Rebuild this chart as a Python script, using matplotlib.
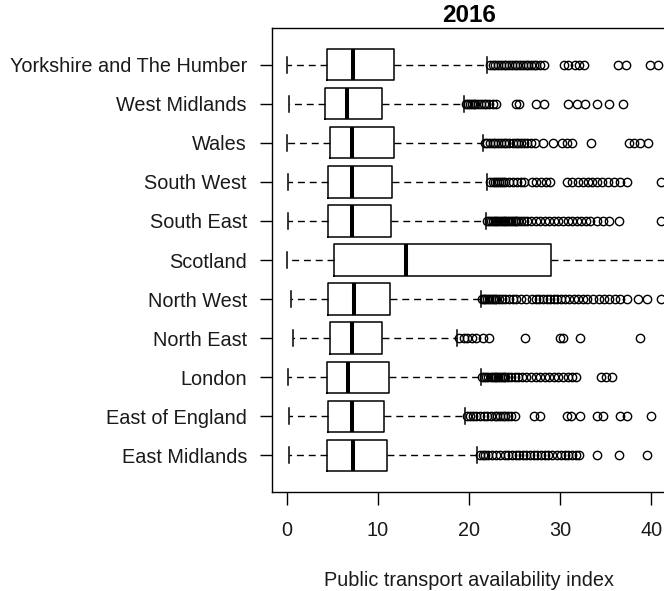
import matplotlib
matplotlib.use('Agg')
import matplotlib.pyplot as plt

plt.rcParams['font.family'] = ['Liberation Sans', 'DejaVu Sans']

# regions, bottom to top (same order as R's boxplot)
regions = ["East Midlands", "East of England", "London", "North East",
           "North West", "Scotland", "South East", "South West",
           "Wales", "West Midlands", "Yorkshire and The Humber"]

whisker_lo = [0.25, 0.25, 0.15, 0.69, 0.44, 0.0, 0.18, 0.18, 0.07, 0.25, 0.07]
q1 = [4.38, 4.52, 4.38, 4.74, 4.52, 5.18, 4.52, 4.52, 4.74, 4.16, 4.38]
median = [7.26, 7.19, 6.75, 7.19, 7.44, 13.1, 7.19, 7.19, 7.19, 6.64, 7.26]
q3 = [11.0, 10.65, 11.2, 10.47, 11.3, 29.0, 11.45, 11.6, 11.74, 10.47, 11.74]
whisker_hi = [20.9, 19.6, 21.3, 18.7, 21.3, 55.0, 21.9, 21.96, 21.5, 19.47, 21.96]

# outliers
out_east_midlands = [21.2, 21.5, 21.8, 22.1, 22.5, 23.0, 23.4, 23.9, 24.3, 24.7,
                     25.1, 25.5, 25.9, 26.3, 26.7, 27.1, 27.5, 27.9, 28.3, 28.7,
                     29.1, 29.7, 30.1, 30.5, 30.9, 31.3, 31.7, 32.1, 34.0, 36.5, 39.5]
out_east_of_england = [19.8, 20.1, 20.4, 20.8, 21.2, 21.6, 22.0, 22.4, 22.8, 23.1,
                       23.4, 23.7, 24.0, 24.3, 24.6, 25.0, 27.1, 27.8, 30.7, 31.2,
                       32.2, 34.0, 34.7, 36.6, 37.3, 40.0]
out_london = [21.4, 21.6, 21.9, 22.1, 22.4, 22.6, 22.8, 23.0, 23.2, 23.4, 23.6,
              23.8, 24.0, 24.3, 24.6, 25.0, 25.4, 25.8, 26.3, 26.8, 27.3, 27.8,
              28.3, 28.8, 29.3, 29.8, 30.3, 30.8, 31.3, 31.7, 34.5, 35.0, 35.7]
out_north_east = [18.9, 19.4, 19.8, 20.3, 20.8, 21.5, 22.2, 26.1, 30.0, 30.3,
                  32.2, 38.7]
out_north_west = [21.4, 21.6, 21.8, 22.0, 22.2, 22.4, 22.6, 22.8, 23.0, 23.3,
                  23.6, 24.0, 24.4, 24.8, 25.2, 25.7, 26.2, 26.9, 27.3, 27.7,
                  28.1, 28.5, 28.9, 29.3, 29.7, 30.1, 30.5, 31.0, 31.5, 32.0,
                  32.5, 32.9, 33.6, 34.2, 34.8, 35.4, 36.0, 36.6, 37.3, 38.5,
                  39.5, 41.1]
out_scotland = []
out_south_east = [22.0, 22.2, 22.4, 22.6, 22.8, 23.0, 23.2, 23.4, 23.6, 23.8,
                  24.0, 24.2, 24.4, 24.6, 24.8, 25.0, 25.2, 25.4, 25.7, 26.0,
                  26.4, 26.8, 27.3, 27.8, 28.3, 28.8, 29.3, 29.8, 30.3, 30.8,
                  31.3, 31.8, 32.3, 32.8, 33.3, 34.0, 34.7, 35.4, 36.4, 41.1]
out_south_west = [22.3, 22.6, 22.9, 23.1, 23.3, 23.5, 23.7, 24.0, 24.4, 24.8,
                  25.3, 25.7, 26.0, 26.9, 27.4, 27.9, 28.4, 28.9, 30.7, 31.3,
                  31.9, 32.5, 33.0, 33.5, 34.0, 34.6, 35.2, 35.9, 36.6, 37.3, 41.1]
out_wales = [21.7, 22.0, 22.3, 22.6, 22.9, 23.2, 23.5, 23.8, 24.1, 24.4, 24.8,
             25.1, 25.4, 25.7, 26.0, 26.4, 26.8, 27.2, 28.1, 29.2, 30.2, 30.7,
             31.3, 33.4, 37.5, 38.1, 38.7, 39.6]
out_west_midlands = [19.7, 19.9, 20.1, 20.3, 20.5, 20.7, 21.0, 21.3, 21.6, 21.9,
                     22.2, 22.6, 23.0, 25.1, 25.5, 27.4, 28.2, 30.9, 31.8, 32.7,
                     34.0, 35.4, 36.9]
out_yorkshire = [22.3, 22.6, 22.9, 23.2, 23.5, 23.8, 24.1, 24.4, 24.7, 25.0,
                 25.3, 25.6, 25.9, 26.2, 26.5, 26.8, 27.1, 27.4, 27.8, 28.2,
                 30.4, 30.9, 31.6, 32.1, 32.6, 36.3, 37.2, 39.8, 40.7]

fliers = [out_east_midlands, out_east_of_england, out_london, out_north_east,
          out_north_west, out_scotland, out_south_east, out_south_west,
          out_wales, out_west_midlands, out_yorkshire]

stats = []
for i, name in enumerate(regions):
    stats.append({
        'label': name,
        'whislo': whisker_lo[i],
        'q1': q1[i],
        'med': median[i],
        'q3': q3[i],
        'whishi': whisker_hi[i],
        'fliers': fliers[i],
    })

fig = plt.figure(figsize=(6.64, 5.91), dpi=100)
# the right edge of the plot region sits just past the image edge
ax = fig.add_axes([272 / 664, 1 - 492 / 591, 394 / 664, 464 / 591])

ax.bxp(stats, positions=range(1, len(regions) + 1), vert=False,
       widths=0.8, capwidths=0.4,
       boxprops=dict(color='black', linewidth=1.1),
       medianprops=dict(color='black', linewidth=2.9, solid_capstyle='butt'),
       whiskerprops=dict(color='black', linewidth=1.0, linestyle=(0, (5, 3.5))),
       capprops=dict(color='black', linewidth=1.1),
       flierprops=dict(marker='o', markerfacecolor='none', markeredgecolor='black',
                       markersize=6.0, markeredgewidth=1.0, linestyle='none'))

ax.set_xlim(-1.6, 41.6)
ax.set_ylim(0.06, 11.94)
ax.set_xticks([0, 10, 20, 30, 40])
ax.set_yticks(range(1, len(regions) + 1))
ax.set_yticklabels(regions)
ax.tick_params(axis='both', direction='out', length=9, width=1.0,
               labelsize=14.3, color='black', labelcolor='#1a1a1a')
ax.tick_params(axis='x', pad=12)
ax.tick_params(axis='y', pad=9)

for side in ['top', 'bottom', 'left', 'right']:
    ax.spines[side].set_linewidth(1.0)

ax.set_title('2016', fontsize=17.5, fontweight='bold', pad=4)
ax.set_xlabel('Public transport availability index', fontsize=14.3, color='#1a1a1a')
ax.xaxis.set_label_coords(0.5, -0.19)
ax.xaxis.label.set_va('center')

fig.savefig('out.png', dpi=100)
